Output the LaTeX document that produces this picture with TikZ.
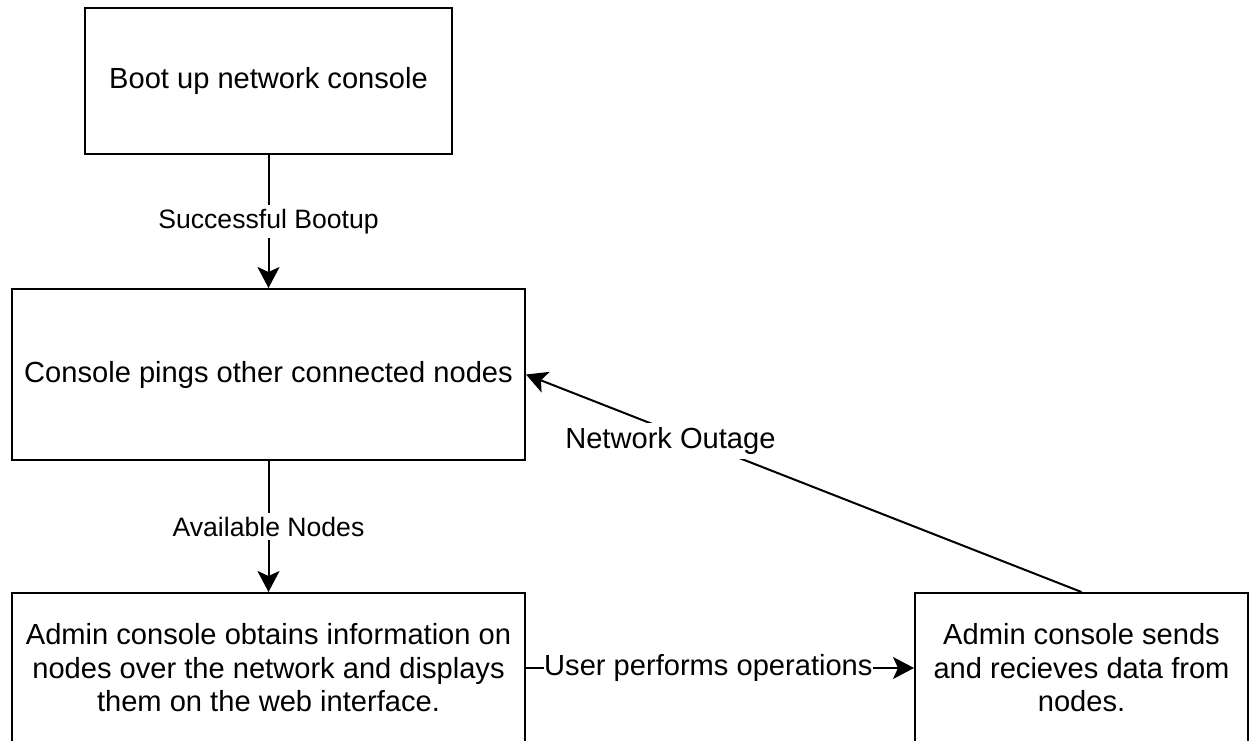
\documentclass[tikz,border=0pt]{standalone}
\usepackage{fontspec}
\setmainfont{Liberation Sans}
\usetikzlibrary{arrows.meta}

\begin{document}
\begin{tikzpicture}[x=0.5pt,y=-0.5pt,
    stepbox/.style={draw,line width=1pt,align=center,inner sep=0pt,font=\fontsize{14.55pt}{16.75pt}\selectfont},
    flow/.style={-{Stealth[length=10.5pt,width=11pt,inset=2.5pt]},line width=1pt},
    lbl/.style={fill=white,inner xsep=0pt,inner ysep=2pt,font=\fontsize{13.3pt}{16pt}\selectfont},
    biglbl/.style={lbl,font=\fontsize{14.55pt}{16.75pt}\selectfont}]
    \useasboundingbox (0,0) rectangle (1257,740);
    \foreach \nm/\cx/\cy/\w/\h/\txt in {boot/268.5/81/183.5/73/{Boot up network console}, ping/268.5/374.5/256.5/85.5/{Console pings other connected nodes}, admin/268.5/668/256.5/75/{Admin console obtains information on\\nodes over the network and displays\\them on the web interface.}, sends/1081.5/668/166.5/75/{Admin console sends\\and recieves data from\\nodes.}} {
      \node[stepbox,minimum width=\w pt,minimum height=\h pt] (\nm) at (\cx,\cy) {\txt};
    }
    \draw[flow] (boot) -- node[lbl] {Successful Bootup} (ping);
    \draw[flow] (ping) -- node[lbl] {Available Nodes} (admin);
    \draw[flow] (admin) -- node[biglbl,pos=0.47] {User performs operations} (sends);
    \draw[flow] (sends.north) -- node[biglbl,pos=0.74,yshift=-5pt] {Network Outage} (ping.east);
  \end{tikzpicture}
\end{document}
